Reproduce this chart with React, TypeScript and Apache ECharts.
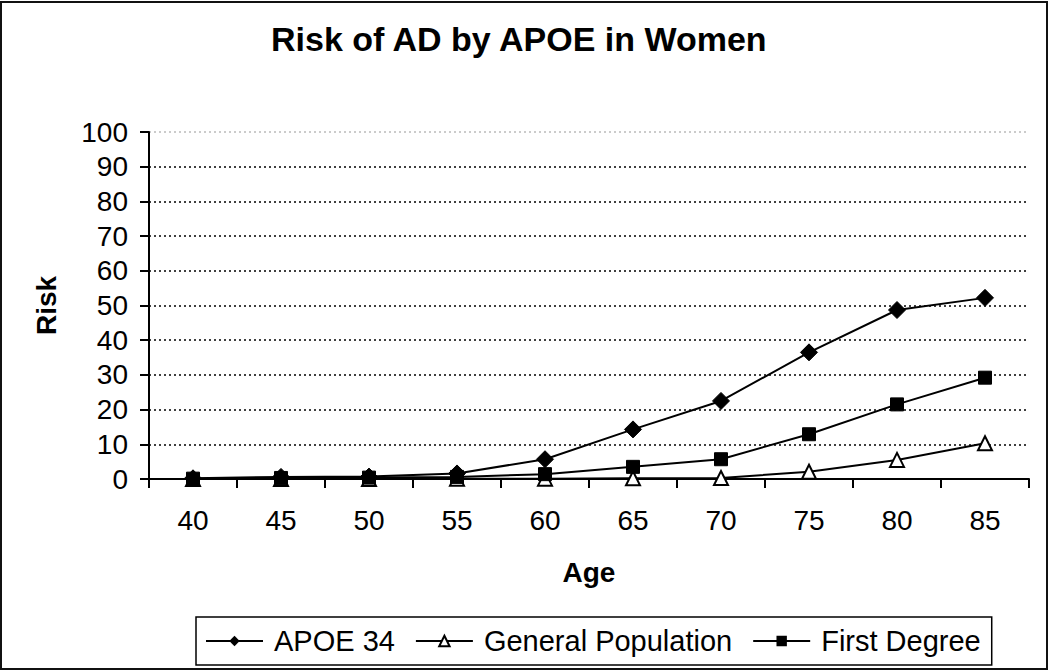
import React, { useEffect, useRef } from "react";
import * as echarts from "echarts";

const ages = ["40", "45", "50", "55", "60", "65", "70", "75", "80", "85"];
const apoe34 = [0.2, 0.6, 0.7, 1.6, 5.7, 14.3, 22.5, 36.5, 48.7, 52.2];
const generalPopulation = [0, 0, 0, 0.1, 0.1, 0.2, 0.3, 2.1, 5.5, 10.3];
const firstDegree = [0.1, 0.3, 0.4, 0.6, 1.4, 3.5, 5.7, 12.9, 21.5, 29.2];
const seriesNames = ["APOE 34", "General Population", "First Degree"];

const FONT = "'Liberation Sans', Arial, sans-serif";

export default function App() {
  const ref = useRef<HTMLDivElement>(null);
  useEffect(() => {
    if (!ref.current) return;
    const chart = echarts.init(ref.current, null, { renderer: "svg" });
    const gridColors = ["#000", "#000", "#000", "#000", "#000", "#000", "#000", "#000", "#000", "#000", "#bbb"];
    chart.setOption({
      animation: false,
      backgroundColor: "#fff",
      textStyle: { fontFamily: FONT, color: "#000" },
      title: {
        text: "Risk of AD by APOE in Women",
        left: 271,
        top: 22,
        padding: 0,
        textStyle: { fontFamily: FONT, fontSize: 34, fontWeight: "bold", color: "#000" },
      },
      graphic: [
        {
          type: "rect",
          shape: { x: 1, y: 2, width: 1046, height: 667 },
          style: { fill: "none", stroke: "#111", lineWidth: 2 },
          silent: true,
        },
      ],
      legend: {
        left: 196,
        top: 617,
        padding: [8, 11, 8, 9],
        itemGap: 20,
        itemWidth: 57,
        itemHeight: 13,
        borderColor: "#000",
        borderWidth: 1.5,
        data: seriesNames,
        textStyle: { fontFamily: FONT, fontSize: 29, color: "#000", padding: [0, 0, 0, 6], lineHeight: 32 },
      },
      grid: { left: 149, right: 21, top: 132, bottom: 193, containLabel: false },
      xAxis: {
        type: "category",
        data: ages,
        boundaryGap: true,
        name: "Age",
        nameLocation: "middle",
        nameGap: 79,
        nameTextStyle: { fontFamily: FONT, fontSize: 28, fontWeight: "bold", color: "#000" },
        axisLine: { lineStyle: { color: "#000", width: 2 } },
        axisTick: { show: true, inside: false, length: 9, lineStyle: { color: "#000", width: 2 } },
        axisLabel: { margin: 27, fontFamily: FONT, fontSize: 28, color: "#000" },
        splitLine: { show: false },
      },
      yAxis: {
        type: "value",
        min: 0,
        max: 100,
        interval: 10,
        name: "Risk",
        nameLocation: "middle",
        nameGap: 89,
        nameRotate: 90,
        nameTextStyle: { fontFamily: FONT, fontSize: 28, fontWeight: "bold", color: "#000" },
        axisLine: { show: true, lineStyle: { color: "#000", width: 2 } },
        axisTick: { show: true, inside: false, length: 9, lineStyle: { color: "#000", width: 2 } },
        axisLabel: { margin: 21, fontFamily: FONT, fontSize: 28, color: "#000" },
        splitLine: { show: true, lineStyle: { color: gridColors, type: [2, 3], width: 1.5 } },
      },
      series: [
        {
          name: seriesNames[0],
          type: "line",
          data: apoe34,
          symbol: "diamond",
          symbolSize: 17,
          lineStyle: { color: "#000", width: 2 },
          itemStyle: { color: "#000", borderColor: "#000" },
        },
        {
          name: seriesNames[1],
          type: "line",
          data: generalPopulation,
          symbol: "triangle",
          symbolSize: 14,
          lineStyle: { color: "#000", width: 2 },
          itemStyle: { color: "#fff", borderColor: "#000", borderWidth: 2 },
        },
        {
          name: seriesNames[2],
          type: "line",
          data: firstDegree,
          symbol: "rect",
          symbolSize: 13,
          lineStyle: { color: "#000", width: 2 },
          itemStyle: { color: "#000", borderColor: "#000" },
        },
      ],
    });
    return () => chart.dispose();
  }, []);
  return (
    <div
      ref={ref}
      style={{ position: "fixed", left: 0, top: 0, width: 1050, height: 672, background: "#fff" }}
    />
  );
}
